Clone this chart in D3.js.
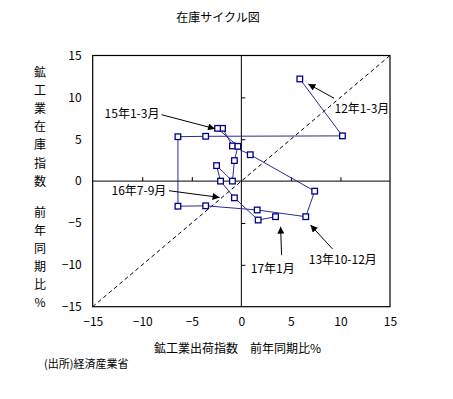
<!DOCTYPE html>
<html>
<head>
<meta charset="utf-8">
<script src="https://cdn.jsdelivr.net/npm/d3@7"></script>
<style>
body { margin: 0; background: #fff; }
text { font-family: "Noto Sans CJK JP", "Noto Sans", sans-serif; fill: #000; }
</style>
</head>
<body>
<div id="chart"></div>
<script>
// Data (year-on-year %, quarterly 2012Q1 .. 2016Q4, then Jan 2017)
const periods = ["12Q1","12Q2","12Q3","12Q4","13Q1","13Q2","13Q3","13Q4",
                 "14Q1","14Q2","14Q3","14Q4","15Q1","15Q2","15Q3","15Q4",
                 "16Q1","16Q2","16Q3","16Q4","17M1"];
const shipments = [5.9, 10.2, -3.6, -6.4, -6.4, -3.6, 1.6, 6.5,
                   7.4, 0.9, -0.9, -1.9, -2.4, -0.35, -0.7, -0.9,
                   -2.5, -2.1, -0.7, 1.7, 3.45];
const inventory = [12.2, 5.4, 5.35, 5.3, -3.0, -2.95, -3.45, -4.25,
                   -1.2, 3.15, 4.2, 6.3, 6.3, 4.15, 2.45, 0.0,
                   1.85, 0.0, -2.0, -4.65, -4.25];
const xTicks = [-15, -10, -5, 0, 5, 10, 15];
const yTicks = [-15, -10, -5, 0, 5, 10, 15];

// annotation labels with text anchor and arrow (in data units)
const noteLabels = ["12年1-3月", "15年1-3月", "16年7-9月", "17年1月", "13年10-12月"];
const noteText   = [[9.4, 8.6], [-13.8, 8.0], [-13.1, -1.15], [0.95, -10.5], [6.8, -9.45]];
const noteFrom   = [[9.35, 9.9], [-8.05, 7.93], [-7.3, -1.15], [4.06, -8.85], [9.2, -8.1]];
const noteTo     = [[6.75, 11.6], [-2.65, 6.25], [-2.2, -1.95], [3.96, -5.45], [6.98, -5.25]];

const yTitle1 = ["鉱", "工", "業", "在", "庫", "指", "数"];
const yTitle2 = ["前", "年", "同", "期", "比", "%"];

function drawChart() {
    const width = 453;
    const height = 399;
    const left = 92.7, right = 390, top = 55.5, bottom = 306.7;

    const svg = d3.select("#chart").append("svg")
        .attr("width", width).attr("height", height);

    svg.append("defs").append("marker")
        .attr("id", "arrow")
        .attr("viewBox", "0 0 10 10")
        .attr("refX", 10).attr("refY", 5)
        .attr("markerWidth", 8).attr("markerHeight", 7)
        .attr("markerUnits", "userSpaceOnUse")
        .attr("orient", "auto")
        .append("path")
        .attr("d", "M0,0L10,5L0,10Z")
        .attr("fill", "#000");

    const x = d3.scaleLinear().domain([-15, 15]).range([left, right]);
    const y = d3.scaleLinear().domain([-15, 15]).range([bottom, top]);

    // title
    svg.append("text")
        .attr("x", 218).attr("y", 22)
        .attr("text-anchor", "middle")
        .style("font-size", "12px")
        .text("在庫サイクル図");

    // tick labels around the box
    svg.append("g")
        .attr("transform", `translate(0,${bottom})`)
        .call(d3.axisBottom(x).tickValues(xTicks).tickSize(0).tickPadding(11))
        .call(g => g.select(".domain").remove())
        .selectAll("text").style("font-size", "12px")
        .style("font-family", '"Noto Sans CJK JP", sans-serif');
    svg.append("g")
        .attr("transform", `translate(${left},0)`)
        .call(d3.axisLeft(y).tickValues(yTicks).tickSize(0).tickPadding(11))
        .call(g => g.select(".domain").remove())
        .selectAll("text").style("font-size", "12px")
        .style("font-family", '"Noto Sans CJK JP", sans-serif');

    // zero lines with small inner ticks
    svg.append("g")
        .attr("transform", `translate(0,${y(0)})`)
        .call(d3.axisTop(x).tickValues(xTicks.filter(d => Math.abs(d) !== 15 && d !== 0))
            .tickSize(4).tickFormat(""))
        .call(g => g.select(".domain").attr("d", `M${left},0H${right}`))
        .selectAll("line,path").attr("stroke", "#000");
    svg.append("g")
        .attr("transform", `translate(${x(0)},0)`)
        .call(d3.axisRight(y).tickValues(yTicks.filter(d => Math.abs(d) !== 15 && d !== 0))
            .tickSize(4).tickFormat(""))
        .call(g => g.select(".domain").attr("d", `M0,${top}V${bottom}`))
        .selectAll("line,path").attr("stroke", "#000");

    // 45 degree line
    svg.append("line")
        .attr("x1", x(-15)).attr("y1", y(-15))
        .attr("x2", x(15)).attr("y2", y(15))
        .attr("stroke", "#000")
        .attr("stroke-width", 1)
        .attr("stroke-dasharray", "4,3");

    // box
    svg.append("rect")
        .attr("x", left).attr("y", top)
        .attr("width", right - left).attr("height", bottom - top)
        .attr("fill", "none").attr("stroke", "#000").attr("stroke-width", 1.2);

    const data = periods.map((p, i) => ({p: p, s: shipments[i], v: inventory[i]}));

    svg.append("path")
        .datum(data)
        .attr("d", d3.line().x(d => x(d.s)).y(d => y(d.v)))
        .attr("fill", "none")
        .attr("stroke", "#2a2a96")
        .attr("stroke-width", 1);

    svg.append("g")
        .selectAll("rect")
        .data(data)
        .enter()
        .append("rect")
        .attr("x", d => x(d.s) - 2.8)
        .attr("y", d => y(d.v) - 2.8)
        .attr("width", 5.6).attr("height", 5.6)
        .attr("fill", "#fff")
        .attr("stroke", "#00008b")
        .attr("stroke-width", 1.3);

    // annotations
    noteLabels.forEach((label, i) => {
        svg.append("line")
            .attr("x1", x(noteFrom[i][0])).attr("y1", y(noteFrom[i][1]))
            .attr("x2", x(noteTo[i][0])).attr("y2", y(noteTo[i][1]))
            .attr("stroke", "#000").attr("stroke-width", 1)
            .attr("marker-end", "url(#arrow)");
        svg.append("text")
            .attr("x", x(noteText[i][0])).attr("y", y(noteText[i][1]))
            .attr("dy", "0.35em")
            .style("font-size", "12px")
            .text(label);
    });

    // y axis title, one character per row
    svg.append("g").selectAll("text")
        .data(yTitle1.map((c, i) => ({c: c, yy: 72.3 + i * 18.2}))
            .concat(yTitle2.map((c, i) => ({c: c, yy: 212.3 + i * 18.0}))))
        .enter()
        .append("text")
        .attr("x", 40).attr("y", d => d.yy)
        .attr("dy", "0.35em")
        .attr("text-anchor", "middle")
        .style("font-size", "12px")
        .text(d => d.c);

    // x axis title
    svg.append("text")
        .attr("x", 237.5).attr("y", 348.5)
        .attr("dy", "0.35em")
        .attr("text-anchor", "middle")
        .style("font-size", "12px")
        .text("鉱工業出荷指数\u3000前年同期比%");

    // source
    svg.append("text")
        .attr("x", 44).attr("y", 364)
        .attr("dy", "0.35em")
        .style("font-size", "11px")
        .text("(出所)経済産業省");
}

drawChart();
</script>
</body>
</html>
